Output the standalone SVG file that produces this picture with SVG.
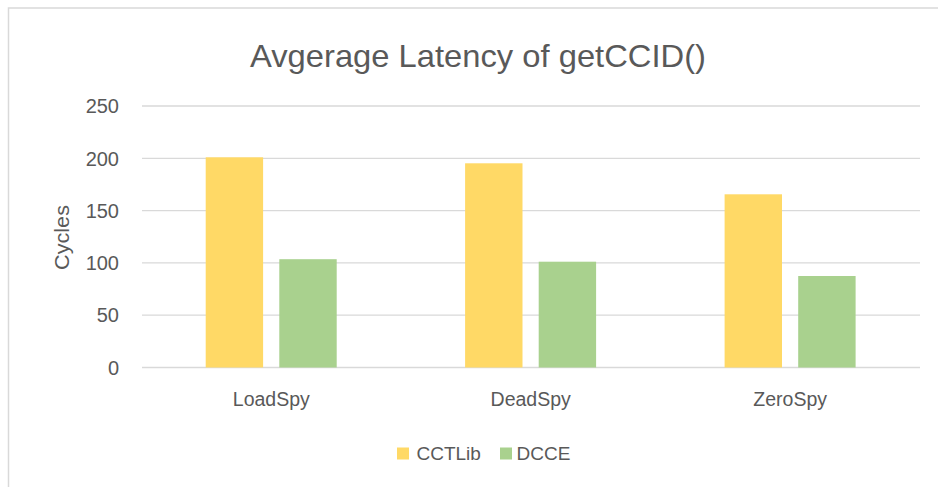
<svg xmlns="http://www.w3.org/2000/svg" width="938" height="487" viewBox="0 0 938 487">
  <style>
    .lbl { font-family: "Liberation Sans", Arial, sans-serif; fill: #595959; }
    .tick { font-size: 20px; text-anchor: end; }
    .cat { font-size: 19.5px; text-anchor: middle; }
    .grid { stroke: #d9d9d9; stroke-width: 1.3; fill: none; }
    .cct { fill: #ffd966; }
    .dcce { fill: #a9d18e; }
  </style>
  <rect width="938" height="487" fill="#ffffff"/>
  <!-- chart area frame -->
  <path d="M8.5 487 V8 H938" fill="none" stroke="#d9d9d9" stroke-width="1.5"/>

  <g id="title">
    <text class="lbl" x="478" y="67" font-size="32" text-anchor="middle" textLength="456" lengthAdjust="spacingAndGlyphs">Avgerage Latency of getCCID()</text>
  </g>

  <g id="gridlines">
    <line class="grid" x1="142" y1="106" x2="920" y2="106"/>
    <line class="grid" x1="142" y1="158.3" x2="920" y2="158.3"/>
    <line class="grid" x1="142" y1="210.6" x2="920" y2="210.6"/>
    <line class="grid" x1="142" y1="262.9" x2="920" y2="262.9"/>
    <line class="grid" x1="142" y1="315.2" x2="920" y2="315.2"/>
    <line class="grid" x1="142" y1="367.5" x2="920" y2="367.5"/>
  </g>

  <g id="y-axis">
    <text class="lbl tick" x="119" y="113.2">250</text>
    <text class="lbl tick" x="119" y="165.5">200</text>
    <text class="lbl tick" x="119" y="217.8">150</text>
    <text class="lbl tick" x="119" y="270.1">100</text>
    <text class="lbl tick" x="119" y="322.4">50</text>
    <text class="lbl tick" x="119" y="374.7">0</text>
    <text class="lbl" x="0" y="0" font-size="21" text-anchor="middle" textLength="65" lengthAdjust="spacingAndGlyphs" transform="translate(68.5 237.5) rotate(-90)">Cycles</text>
  </g>

  <g id="loadspy">
    <rect class="cct" x="205.7" y="157.3" width="57.4" height="210.2"/>
    <rect class="dcce" x="279.3" y="259.2" width="57.4" height="108.3"/>
    <text class="lbl cat" x="271.3" y="405.7">LoadSpy</text>
  </g>

  <g id="deadspy">
    <rect class="cct" x="465.1" y="163.3" width="57.4" height="204.2"/>
    <rect class="dcce" x="538.7" y="261.7" width="57.4" height="105.8"/>
    <text class="lbl cat" x="530.7" y="405.7">DeadSpy</text>
  </g>

  <g id="zerospy">
    <rect class="cct" x="724.6" y="194.3" width="57.4" height="173.2"/>
    <rect class="dcce" x="798.2" y="276" width="57.4" height="91.5"/>
    <text class="lbl cat" x="790.2" y="405.7">ZeroSpy</text>
  </g>

  <g id="legend">
    <rect class="cct" x="397" y="447.5" width="12" height="12"/>
    <text class="lbl" x="416.5" y="459.5" font-size="19">CCTLib</text>
    <rect class="dcce" x="500" y="447.5" width="12" height="12"/>
    <text class="lbl" x="516.5" y="459.5" font-size="19">DCCE</text>
  </g>
</svg>
